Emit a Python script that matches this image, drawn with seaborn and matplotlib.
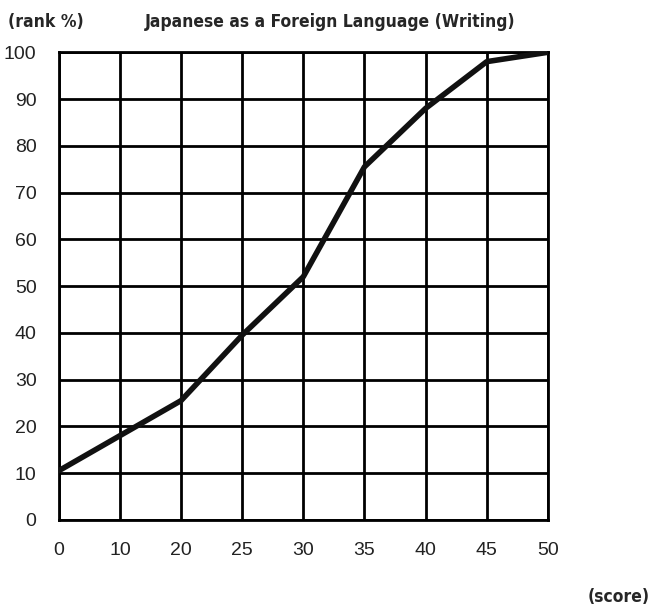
import matplotlib
matplotlib.use("Agg")
import matplotlib.pyplot as plt
import seaborn as sns
import pandas as pd
from matplotlib import font_manager as fm

scores = ["0", "10", "20", "25", "30", "35", "40", "45", "50"]
rank_pct = [10.5, 18, 25.5, 39.5, 52, 75.5, 88, 98, 100]
y_ticks = [0, 10, 20, 30, 40, 50, 60, 70, 80, 90, 100]

sns.set_theme(style="white")
plt.rcParams['font.family'] = ['Liberation Sans', 'DejaVu Sans']

cands = [f for f in fm.fontManager.ttflist
         if ("Condensed" in f.name or "Narrow" in f.name or "condensed" in str(f.stretch))
         and f.style == "normal"]
bold = [f for f in cands if (f.weight if isinstance(f.weight, int) else 700 if f.weight == "bold" else 400) >= 600]
pick = bold[0] if bold else (cands[0] if cands else None)
if pick is not None:
    tprop = fm.FontProperties(fname=pick.fname, size=12.5)
    if not bold:
        tprop.set_weight("bold")
else:
    tprop = fm.FontProperties(family="DejaVu Sans", weight="bold", size=11)

df = pd.DataFrame({"score": scores, "rank": rank_pct})

fig = plt.figure(figsize=(6.53, 6.08), dpi=100)
ax = fig.add_axes([0.090, 0.145, 0.749, 0.769])

sns.lineplot(data=df, x="score", y="rank", sort=False, color="#111111",
             linewidth=4, ax=ax, zorder=3)

ax.set_xlim(0, len(scores) - 1)
ax.set_ylim(0, 100)
ax.set_yticks(y_ticks)
ax.grid(True, color="black", linewidth=2)
ax.set_axisbelow(True)
for s in ax.spines.values():
    s.set_visible(True)
    s.set_color("black")
    s.set_linewidth(2)
ax.tick_params(axis="both", length=0, labelsize=14, colors="#222222")
ax.tick_params(axis="x", pad=16)
ax.tick_params(axis="y", pad=16)
ax.set_xlabel("")
ax.set_ylabel("")

fig.text(0.012, 0.964, "(rank %)", ha="left", va="center", fontproperties=tprop)
fig.text(0.505, 0.964, "Japanese as a Foreign Language (Writing)", ha="center",
         va="center", fontproperties=tprop)
fig.text(0.995, 0.018, "(score)", ha="right", va="center", fontproperties=tprop)

fig.savefig("out.png", dpi=100, facecolor="white")
